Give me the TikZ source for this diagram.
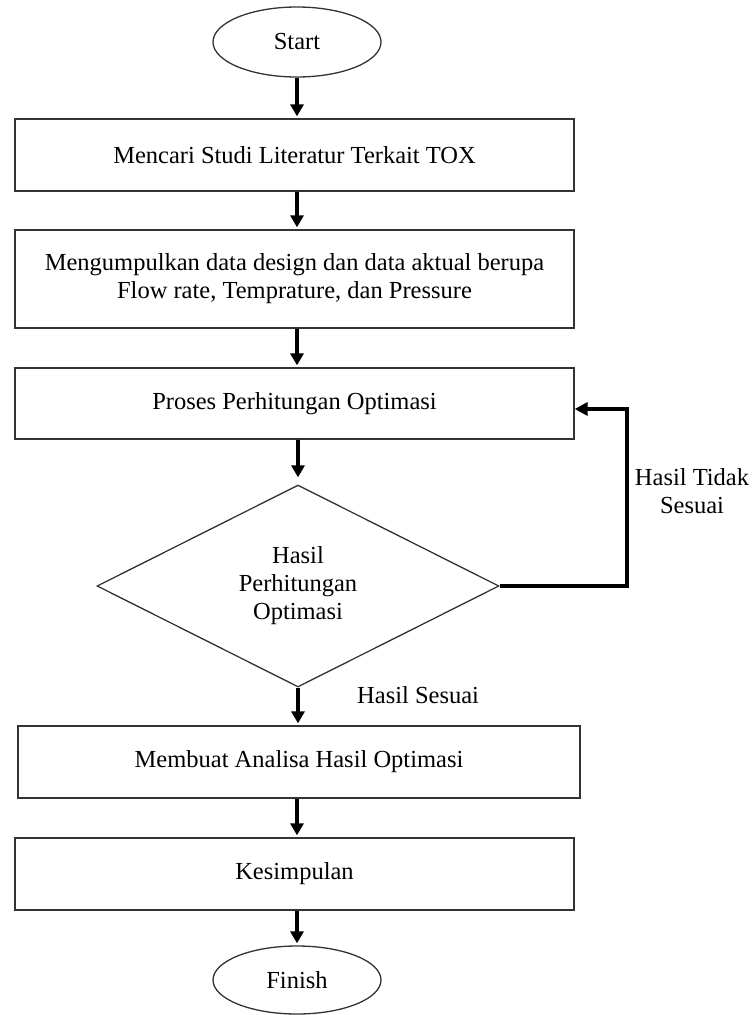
\documentclass[tikz,border=0pt]{standalone}
\usepackage{fontspec}
\setmainfont{Liberation Serif}
\usetikzlibrary{shapes.geometric,arrows.meta}
\begin{document}
\begin{tikzpicture}[x=1pt,y=-1pt,
  font=\fontsize{24.5}{28}\selectfont,
  terminal/.style={draw=black!80, line width=1.3pt, ellipse, minimum width=168pt, minimum height=70pt, inner sep=0pt},
  process/.style={draw=black!80, line width=1.3pt, rectangle, minimum width=559pt, minimum height=72pt, inner sep=0pt, align=center},
  decision/.style={draw=black!80, line width=1.3pt, diamond, minimum width=402pt, minimum height=202pt, inner sep=0pt, align=center},
  flow/.style={line width=3.5pt, -{Triangle[length=12pt,width=13pt]}, shorten >=2pt},
  back/.style={line width=4pt, -{Triangle[length=13pt,width=13pt]}, line join=miter},
  tag/.style={inner sep=0pt, align=center}]

\useasboundingbox (0,0) rectangle (752,1015);

% steps
\node[terminal] (start) at (297,42) {Start};
\node[process] (study) at (294.5,155) {Mencari Studi Literatur Terkait TOX};
\node[process, minimum height=98pt] (data) at (294.5,279) {Mengumpulkan data design dan data aktual berupa\\Flow rate, Temprature, dan Pressure};
\node[process, minimum height=71pt] (calc) at (294.5,403.5) {Proses Perhitungan Optimasi};
\node[decision] (check) at (298,586) {Hasil\\Perhitungan\\Optimasi};
\node[process, minimum width=562pt] (analysis) at (299,762) {Membuat Analisa Hasil Optimasi};
\node[process] (summary) at (294.5,874) {Kesimpulan};
\node[terminal, minimum height=68pt] (finish) at (297,980) {Finish};

% arrows
\draw[flow] (start) -- (start |- study.north);
\draw[flow] (study.south -| start) -- (start |- data.north);
\draw[flow] (data.south -| start) -- (start |- calc.north);
\draw[flow, shorten >=7pt] (calc.south -| check) -- (check.north);
\draw[flow] (check.south) -- (check |- analysis.north);
\draw[flow] (analysis.south -| start) -- (start |- summary.north);
\draw[flow] (summary.south -| start) -- (finish);

% loop back
\coordinate (turn) at (627,586);
\draw[back] (check.east) -- (turn) |- ([yshift=-5.5pt]calc.east);

\node[tag, anchor=base west] (yes) at (357,703) {Hasil Sesuai};
\node[tag] (no) at (692,491) {Hasil Tidak\\Sesuai};

\end{tikzpicture}
\end{document}
